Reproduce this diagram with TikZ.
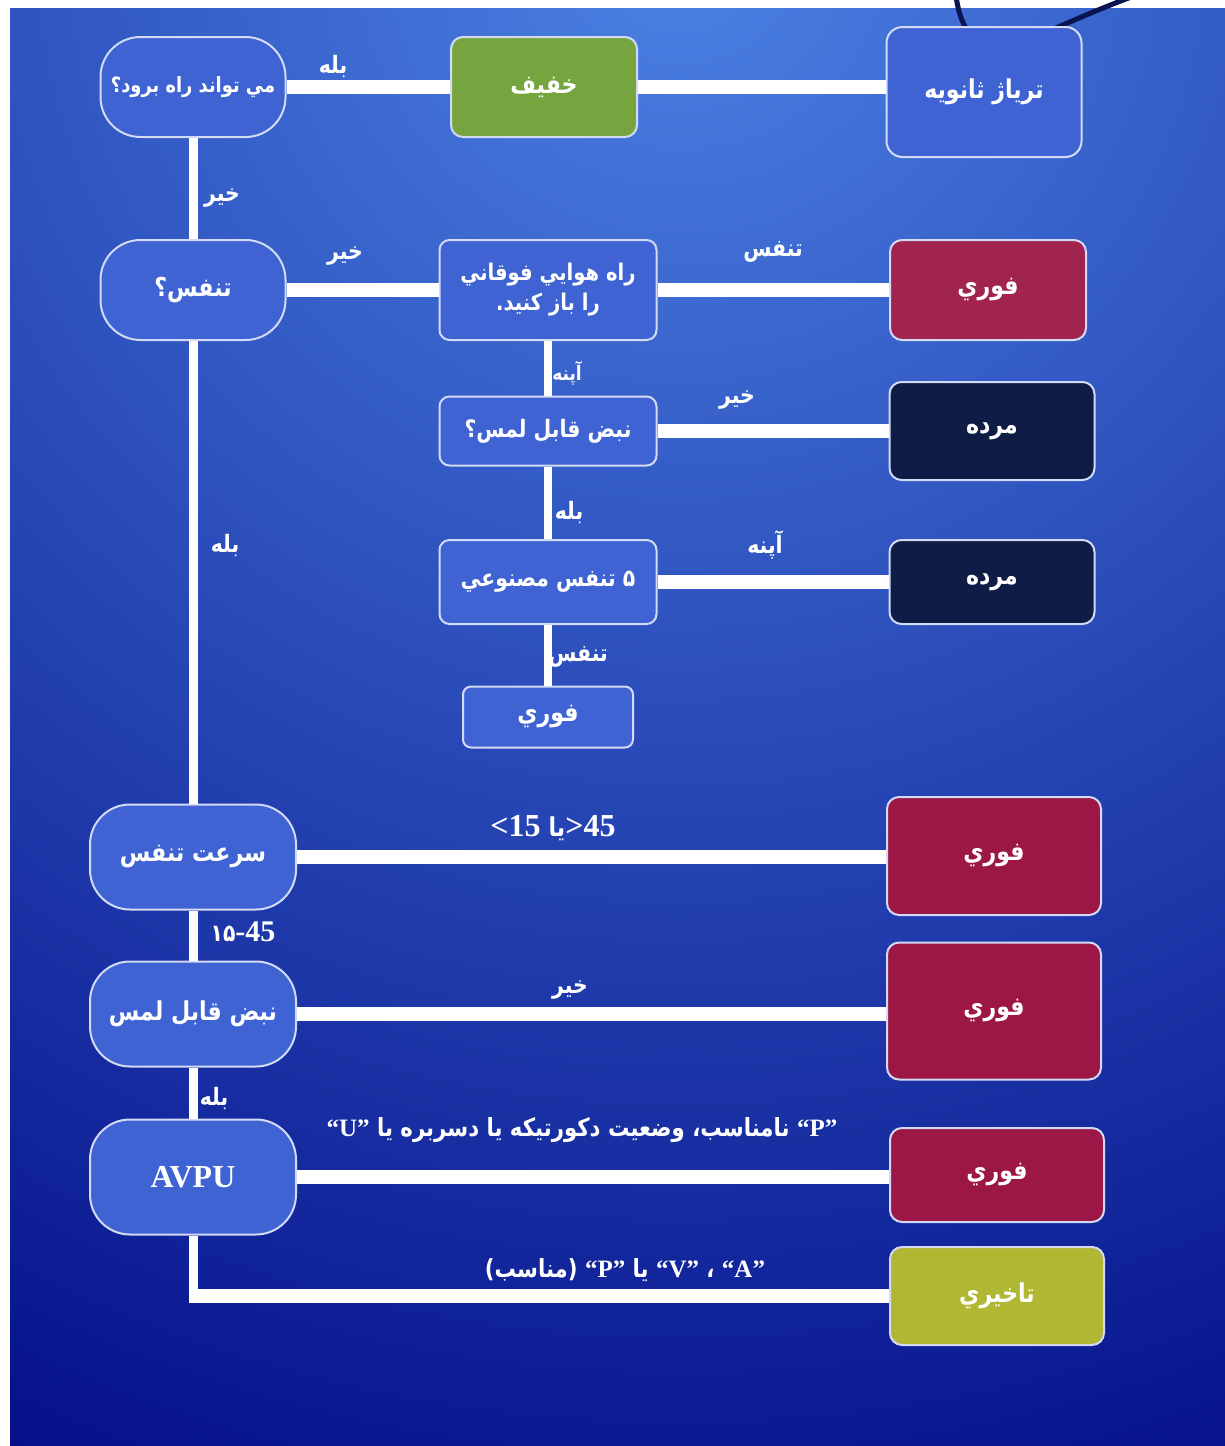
\documentclass[tikz,border=0pt]{standalone}
\usepackage{fontspec}
\setmainfont{Liberation Serif}
\newfontfamily\arabicfont[Script=Arabic, FakeStretch=0.85]{DejaVu Sans}
\TeXXeTstate=1
\usetikzlibrary{positioning}
\definecolor{bgin}{HTML}{4C82E4}
\definecolor{bgout}{HTML}{05108A}
\definecolor{boxblue}{HTML}{3F63D2}
\definecolor{rim}{HTML}{D2DAF6}
\definecolor{okgreen}{HTML}{76A53F}
\definecolor{urgent}{HTML}{A0244F}
\definecolor{urgentb}{HTML}{9C1745}
\definecolor{deadnavy}{HTML}{0F1C45}
\definecolor{olive}{HTML}{B0B733}
\definecolor{loopnavy}{HTML}{0A1450}
\newcommand{\rtext}[1]{\beginR #1\endR}
\tikzstyle{qbox} = [draw=rim, line width=1pt, fill=boxblue, rounded corners=20pt, text=white, align=center, inner sep=2pt, font=\arabicfont\bfseries\fontsize{13}{17}\selectfont]
\tikzstyle{abox} = [qbox, rounded corners=6pt]
\tikzstyle{wire} = [white, line width=7pt]
\tikzstyle{stem} = [white, line width=4.5pt]
\tikzstyle{lbl} = [text=white, inner sep=1pt, font=\arabicfont\bfseries\fontsize{12}{14}\selectfont]

\begin{document}
\begin{tikzpicture}[x=0.5pt,y=-0.5pt]
\useasboundingbox (0,0) rectangle (1225,1446);
\fill[white] (0,0) rectangle (1225,1446);
\begin{scope}
\clip (10,8) rectangle (1225,1446);
\shade[inner color=bgin, outer color=bgout] (680,-60) circle (1650);
\end{scope}

% dark loop cut off at the top
\draw[loopnavy, line width=2.5pt] (956,-4) .. controls (958,10) and (961,20) .. (966,28);
\draw[loopnavy, line width=2.5pt] (1056,28) .. controls (1088,14) and (1112,4) .. (1134,-4);

% left column
\node[qbox, minimum width=92.5pt, minimum height=50pt, font=\arabicfont\bfseries\fontsize{10.5}{14}\selectfont] (walk) at (193,87) {\rtext{مي تواند راه برود؟}};
\node[qbox, minimum width=92.5pt, minimum height=50pt] (breathe) at (193,290) {\rtext{تنفس؟}};
\node[qbox, minimum width=103pt, minimum height=52.5pt] (rate) at (193,857) {\rtext{سرعت تنفس}};
\node[qbox, minimum width=103pt, minimum height=52.5pt] (palp) at (193,1014) {\rtext{نبض قابل لمس}};
\node[qbox, minimum width=103pt, minimum height=57.5pt, font=\bfseries\fontsize{16}{18}\selectfont] (avpu) at (193,1177) {AVPU};

% middle column
\node[abox, fill=okgreen, minimum width=93pt, minimum height=50pt] (mild) at (544,87) {\rtext{خفيف}};
\node[abox, rounded corners=5pt, minimum width=108.5pt, minimum height=50pt, font=\arabicfont\bfseries\fontsize{11.5}{15}\selectfont] (airway) at (548,290) {\rtext{راه هوايي فوقاني}\\\rtext{را باز كنيد.}};
\node[abox, rounded corners=5pt, minimum width=108.5pt, minimum height=34.5pt, font=\arabicfont\bfseries\fontsize{12}{14}\selectfont] (pulseq) at (548,431) {\rtext{نبض قابل لمس؟}};
\node[abox, rounded corners=5pt, minimum width=108.5pt, minimum height=42pt, font=\arabicfont\bfseries\fontsize{12}{14}\selectfont] (rescue) at (548,582) {\rtext{۵ تنفس مصنوعي}};
\node[abox, rounded corners=4pt, minimum width=85pt, minimum height=30.5pt] (immb) at (548,717) {\rtext{فوري}};

% right column
\node[abox, rounded corners=8pt, minimum width=97.5pt, minimum height=65pt] (triage) at (984,92) {\rtext{ترياژ ثانويه}};
\node[abox, fill=urgent, minimum width=98pt, minimum height=50pt] (imma) at (988,290) {\rtext{فوري}};
\node[abox, fill=deadnavy, minimum width=102.5pt, minimum height=49pt] (deada) at (992,431) {\rtext{مرده}};
\node[abox, fill=deadnavy, minimum width=102.5pt, minimum height=42pt] (deadb) at (992,582) {\rtext{مرده}};
\node[abox, fill=urgentb, minimum width=107pt, minimum height=59pt] (immc) at (994,856) {\rtext{فوري}};
\node[abox, fill=urgentb, minimum width=107pt, minimum height=68.5pt] (immd) at (994,1011) {\rtext{فوري}};
\node[abox, fill=urgentb, minimum width=107pt, minimum height=47pt] (imme) at (997,1175) {\rtext{فوري}};
\node[abox, fill=olive, minimum width=107pt, minimum height=49pt] (late) at (997,1296) {\rtext{تاخيري}};

% connectors
\draw[wire] (walk.east) -- (mild.west);
\draw[wire] (mild.east) -- (mild.east -| triage.west);
\draw[wire] (breathe.east) -- (airway.west);
\draw[wire] (airway.east) -- (imma.west);
\draw[wire] (pulseq.east) -- (pulseq.east -| deada.west);
\draw[wire] (rescue.east) -- (rescue.east -| deadb.west);
\draw[wire] (rate.east) -- (rate.east -| immc.west);
\draw[wire] (palp.east) -- (palp.east -| immd.west);
\draw[wire] (avpu.east) -- (avpu.east -| imme.west);
\draw[stem] (walk.south) -- (breathe.north);
\draw[stem] (breathe.south) -- (rate.north);
\draw[stem] (rate.south) -- (palp.north);
\draw[stem] (palp.south) -- (avpu.north);
\draw[stem] (avpu.south) -- (avpu.south |- late.west) coordinate (elbow);
\draw[wire] ([xshift=-2.25pt]elbow) -- (late.west);
\draw[stem, line width=4pt] (airway.south) -- (pulseq.north);
\draw[stem, line width=4pt] (pulseq.south) -- (rescue.north);
\draw[stem, line width=4pt] (rescue.south) -- (immb.north);

% labels
\node[lbl] (l1) at (333,66) {\rtext{بله}};
\node[lbl] (l2) at (222,198) {\rtext{خير}};
\node[lbl] (l3) at (345,256) {\rtext{خير}};
\node[lbl] (l4) at (773,252) {\rtext{تنفس}};
\node[lbl, font=\arabicfont\bfseries\fontsize{10}{12}\selectfont] (l5) at (567,373) {\rtext{آپنه}};
\node[lbl] (l6) at (737,400) {\rtext{خير}};
\node[lbl] (l7) at (569,512) {\rtext{بله}};
\node[lbl] (l8) at (765,545) {\rtext{آپنه}};
\node[lbl] (l9) at (578,657) {\rtext{تنفس}};
\node[lbl] (l10) at (225,545) {\rtext{بله}};
\node[lbl, font=\bfseries\fontsize{16}{18}\selectfont] (l11) at (553,828) {<15 {\arabicfont\fontsize{13}{15}\selectfont يا}>45};
\node[lbl, font=\bfseries\fontsize{15}{17}\selectfont] (l12) at (243,932) {{\arabicfont\fontsize{12}{14}\selectfont ۱۵}-45};
\node[lbl] (l13) at (570,990) {\rtext{خير}};
\node[lbl] (l14) at (214,1098) {\rtext{بله}};
\node[lbl, font=\arabicfont\bfseries\fontsize{12.5}{14}\selectfont] (l15) at (582,1130) {\rtext{{\rmfamily“P”} نامناسب، وضعيت دكورتيكه يا دسربره يا {\rmfamily“U”}}};
\node[lbl, font=\arabicfont\bfseries\fontsize{12.5}{14}\selectfont] (l16) at (625,1270) {\rtext{{\rmfamily“A”} ، {\rmfamily“V”} يا {\rmfamily“P”} (مناسب)}};
\end{tikzpicture}
\end{document}
